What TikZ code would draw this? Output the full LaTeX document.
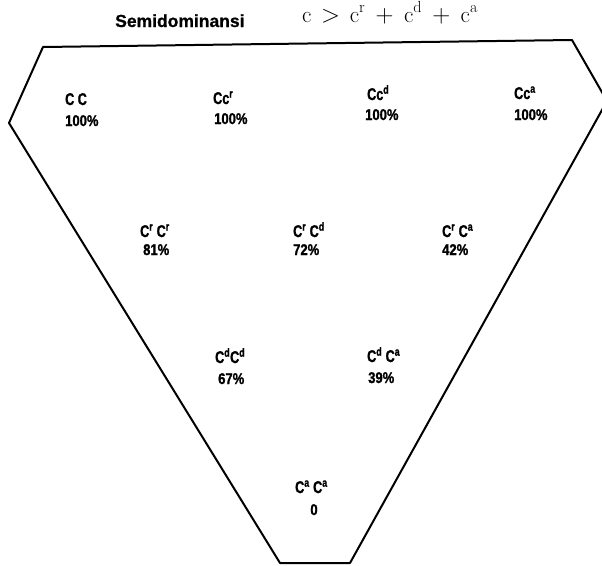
\documentclass[tikz,border=0pt]{standalone}
\usepackage{fontspec}
\newfontfamily\labfont{Liberation Sans Bold}[FakeStretch=0.74,FakeBold=1.2]
\newfontfamily\pctfont{Liberation Sans Bold}[FakeStretch=0.84,FakeBold=1.2]
\newfontfamily\titfont{Liberation Sans Bold}[FakeBold=0.8]
\begin{document}
\begin{tikzpicture}[x=1pt,y=-1pt,
  geno/.style={anchor=base west,inner sep=0pt,font=\labfont\fontsize{17}{18}\selectfont},
  pct/.style={anchor=base west,inner sep=0pt,font=\pctfont\fontsize{15.5}{17}\selectfont},
  outline/.style={draw=black,line width=2pt,line join=round}]
\useasboundingbox (0,0) rectangle (602,565);
\clip (0,0) rectangle (602,565);
\fill[white] (0,0) rectangle (602,565);
% title
\node[anchor=base west,inner sep=0pt,font=\titfont\fontsize{17.5}{20}\selectfont] (title) at (115,27) {Semidominansi};
\node[anchor=base west,inner sep=0pt,font=\fontsize{23}{27}\selectfont] (formula) at (302,22)
  {$\mathrm{c} \mkern2mu > \mkern2mu \mathrm{c}^{\mathrm{r}} \mkern3.5mu + \mkern3.5mu \mathrm{c}^{\mathrm{d}} \mkern3.5mu + \mkern3.5mu \mathrm{c}^{\mathrm{a}}$};
% outline
\draw[outline] (43,47) -- (572,40) -- (607,101) -- (350,563) -- (280,563) -- (9,123) -- cycle;
% row 1
\node[geno] (g11) at (65,105) {C C};
\node[pct]  (p11) at (65,126) {100\%};
\node[geno] (g12) at (213,104) {Cc\textsuperscript{r}};
\node[pct]  (p12) at (214,124) {100\%};
\node[geno] (g13) at (367,100) {Cc\textsuperscript{d}};
\node[pct]  (p13) at (365,120) {100\%};
\node[geno] (g14) at (514,99) {Cc\textsuperscript{a}};
\node[pct]  (p14) at (514,120) {100\%};
% row 2
\node[geno] (g21) at (140,237) {C\textsuperscript{r} C\textsuperscript{r}};
\node[pct]  (p21) at (143,255) {81\%};
\node[geno] (g22) at (293,237) {C\textsuperscript{r} C\textsuperscript{d}};
\node[pct]  (p22) at (293,255) {72\%};
\node[geno] (g23) at (442,237) {C\textsuperscript{r} C\textsuperscript{a}};
\node[pct]  (p23) at (442,255) {42\%};
% row 3
\node[geno] (g31) at (215,363) {C\textsuperscript{d}C\textsuperscript{d}};
\node[pct]  (p31) at (218,384) {67\%};
\node[geno] (g32) at (367,362) {C\textsuperscript{d} C\textsuperscript{a}};
\node[pct]  (p32) at (368,383) {39\%};
% row 4
\node[geno] (g41) at (295,493) {C\textsuperscript{a} C\textsuperscript{a}};
\node[pct,anchor=base] (p41) at (314,515) {0};
\end{tikzpicture}
\end{document}
